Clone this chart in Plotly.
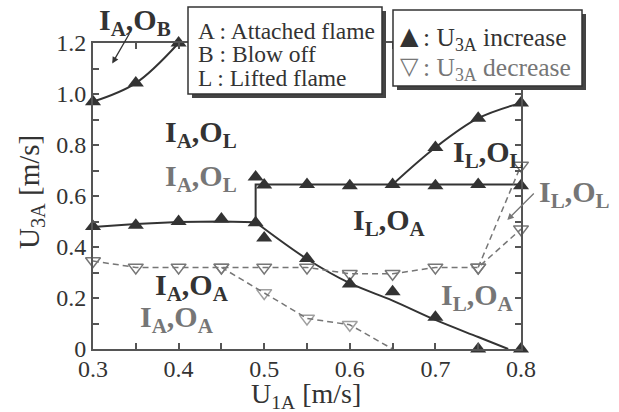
import plotly.graph_objects as go

# Measured transition points (U3A increasing), filled triangles
inc_x = [0.30, 0.35, 0.40, 0.45, 0.49, 0.50, 0.55, 0.60, 0.65, 0.70, 0.75, 0.80]
inc_y = [0.48, 0.485, 0.50, 0.51, 0.495, 0.435, 0.355, 0.255, 0.225, 0.125, 0.0, 0.0]
inc_top_x = [0.49, 0.50, 0.55, 0.60, 0.65, 0.70, 0.75, 0.80]
inc_top_y = [0.675, 0.643, 0.645, 0.64, 0.645, 0.64, 0.645, 0.64]
inc_ol_x = [0.70, 0.75, 0.80]
inc_ol_y = [0.79, 0.905, 0.965]
inc_ob_x = [0.30, 0.35, 0.40]
inc_ob_y = [0.97, 1.043, 1.20]

# Boundary curves
ob_curve_x = [0.30, 0.35, 0.40]
ob_curve_y = [0.97, 1.043, 1.20]
al_curve_x = [0.30, 0.35, 0.40, 0.45, 0.49, 0.49, 0.80]
al_curve_y = [0.478, 0.49, 0.498, 0.50, 0.497, 0.645, 0.645]
la_curve_x = [0.49, 0.55, 0.60, 0.65, 0.70, 0.75, 0.785]
la_curve_y = [0.497, 0.353, 0.258, 0.19, 0.114, 0.047, 0.0]
ol_curve_x = [0.65, 0.70, 0.75, 0.80]
ol_curve_y = [0.645, 0.79, 0.905, 0.965]

# Measured transition points (U3A decreasing), open triangles with dashed links
dec_x = [0.30, 0.35, 0.40, 0.45, 0.50, 0.55, 0.60, 0.65, 0.70, 0.75, 0.80]
dec_y = [0.345, 0.32, 0.32, 0.32, 0.32, 0.32, 0.295, 0.295, 0.32, 0.32, 0.47]
dec_up_x = [0.75, 0.80]
dec_up_y = [0.32, 0.72]
dec_low_x = [0.45, 0.50, 0.55, 0.60, 0.65]
dec_low_y = [0.32, 0.22, 0.12, 0.095, 0.0]

x_ticks = [0.3, 0.4, 0.5, 0.6, 0.7, 0.8]
x_ticktext = ["0.3", "0.4", "0.5", "0.6", "0.7", "0.8"]
y_ticks = [0, 0.2, 0.4, 0.6, 0.8, 1.0, 1.2]
y_ticktext = ["0", "0.2", "0.4", "0.6", "0.8", "1.0", "1.2"]

SERIF = "Liberation Serif"
DARK = "#333333"
GRAY = "#767676"
AXIS = "#555555"

# Plot-area geometry in pixels (for paper-referenced items)
L, T, W, H = 93.0, 43.0, 428.0, 306.0


def px(x):
    return (x - L) / W


def py(y):
    return (T + H - y) / H


fig = go.Figure()

solid = dict(color=DARK, width=2)
for cx, cy, shape in [(ob_curve_x, ob_curve_y, "spline"),
                      (al_curve_x, al_curve_y, "linear"),
                      (la_curve_x, la_curve_y, "spline"),
                      (ol_curve_x, ol_curve_y, "spline")]:
    fig.add_trace(go.Scatter(x=cx, y=cy, mode="lines", line=dict(shape=shape, **solid),
                             hoverinfo="skip", showlegend=False, cliponaxis=False))

dashed = dict(color=GRAY, width=1.5, dash="6px,4px")
open_marker = dict(symbol="triangle-down-open", size=13, color=GRAY, line=dict(width=1.5, color=GRAY))
fig.add_trace(go.Scatter(x=dec_x, y=dec_y, mode="lines+markers", line=dashed,
                         marker=open_marker, showlegend=False, cliponaxis=False))
fig.add_trace(go.Scatter(x=dec_up_x, y=dec_up_y, mode="lines+markers", line=dashed,
                         marker=open_marker, showlegend=False, cliponaxis=False))
low_sizes = [13] * (len(dec_low_x) - 1) + [0]
fig.add_trace(go.Scatter(x=dec_low_x, y=dec_low_y, mode="lines+markers", line=dashed,
                         marker=dict(open_marker, size=low_sizes), showlegend=False, cliponaxis=False))

filled = dict(symbol="triangle-up", size=14, color=DARK)
for mx, my in [(inc_x, inc_y), (inc_top_x, inc_top_y), (inc_ol_x, inc_ol_y), (inc_ob_x, inc_ob_y)]:
    fig.add_trace(go.Scatter(x=mx, y=my, mode="markers", marker=filled,
                             showlegend=False, cliponaxis=False))

# Regime labels (pixel centres)
regimes = [
    ("I<sub>A</sub>,O<sub>B</sub>", 135, 22, DARK),
    ("I<sub>A</sub>,O<sub>L</sub>", 201, 134, DARK),
    ("I<sub>A</sub>,O<sub>L</sub>", 201, 178, GRAY),
    ("I<sub>L</sub>,O<sub>L</sub>", 488, 154, DARK),
    ("I<sub>L</sub>,O<sub>L</sub>", 574, 194, GRAY),
    ("I<sub>L</sub>,O<sub>A</sub>", 389, 222, DARK),
    ("I<sub>A</sub>,O<sub>A</sub>", 192, 287, DARK),
    ("I<sub>A</sub>,O<sub>A</sub>", 177, 319, GRAY),
    ("I<sub>L</sub>,O<sub>A</sub>", 477, 297, GRAY),
]
for txt, tx, ty, col in regimes:
    fig.add_annotation(x=px(tx), y=py(ty), xref="paper", yref="paper", text="<b>" + txt + "</b>",
                       xanchor="center", yanchor="middle",
                       showarrow=False, font=dict(family=SERIF, size=30, color=col))

# Pointer arrows
fig.add_annotation(x=0.3225, y=1.12, ax=0.3436, ay=1.243, xref="x", yref="y",
                   axref="x", ayref="y", text="", showarrow=True, arrowhead=2,
                   arrowsize=1, arrowwidth=1.3, arrowcolor=DARK)
fig.add_annotation(x=0.784, y=0.506, ax=0.8167, ay=0.616, xref="x", yref="y",
                   axref="x", ayref="y", text="", showarrow=True, arrowhead=2,
                   arrowsize=1, arrowwidth=1.3, arrowcolor=GRAY)

# Key boxes
for x0, y0, x1, y1 in [(188, 7, 382, 94), (393, 10, 582, 86)]:
    fig.add_shape(type="rect", xref="paper", yref="paper",
                  x0=px(x0 + 4), y0=py(y1 + 4), x1=px(x1 + 4), y1=py(y0 + 4),
                  fillcolor="#444444", line=dict(width=0), layer="above")
    fig.add_shape(type="rect", xref="paper", yref="paper",
                  x0=px(x0), y0=py(y1), x1=px(x1), y1=py(y0),
                  fillcolor="white", line=dict(color=DARK, width=1.5), layer="above")

key_lines = [("A : Attached flame", 31), ("B : Blow off", 54), ("L : Lifted flame", 78)]
for txt, yy in key_lines:
    fig.add_annotation(x=px(196), y=py(yy), xref="paper", yref="paper", text=txt,
                       xanchor="left", yanchor="middle", showarrow=False,
                       font=dict(family=SERIF, size=23.5, color=DARK))

fig.add_annotation(x=px(409), y=py(36), xref="paper", yref="paper", text="▲",
                   xanchor="center", yanchor="middle", showarrow=False,
                   font=dict(family="DejaVu Sans", size=24, color=DARK))
fig.add_annotation(x=px(409), y=py(66), xref="paper", yref="paper", text="▽",
                   xanchor="center", yanchor="middle", showarrow=False,
                   font=dict(family="DejaVu Sans", size=24, color=GRAY))
fig.add_annotation(x=px(421), y=py(39), xref="paper", yref="paper",
                   text=": U<sub>3A</sub> increase", xanchor="left", yanchor="middle",
                   showarrow=False, font=dict(family=SERIF, size=25.5, color=DARK))
fig.add_annotation(x=px(421), y=py(69), xref="paper", yref="paper",
                   text=": U<sub>3A</sub> decrease", xanchor="left", yanchor="middle",
                   showarrow=False, font=dict(family=SERIF, size=25.5, color=GRAY))

# Axis titles
fig.add_annotation(x=px(306), y=py(395), xref="paper", yref="paper",
                   text="U<sub>1A</sub> [m/s]", showarrow=False,
                   xanchor="center", yanchor="middle",
                   font=dict(family=SERIF, size=28, color=DARK))
fig.add_annotation(x=px(31), y=py(192), xref="paper", yref="paper",
                   text="U<sub>3A</sub> [m/s]", showarrow=False, textangle=-90,
                   xanchor="center", yanchor="middle",
                   font=dict(family=SERIF, size=29, color=DARK))

axis_common = dict(showgrid=False, zeroline=False, showline=True, linecolor=AXIS,
                   linewidth=2, mirror="ticks", ticks="inside", ticklen=6,
                   tickwidth=1.5, tickcolor=AXIS,
                   tickfont=dict(family=SERIF, size=24, color=DARK))

fig.update_layout(
    width=619, height=412,
    margin=dict(l=93, r=98, t=43, b=63),
    plot_bgcolor="white", paper_bgcolor="white",
    xaxis=dict(range=[0.3, 0.8], tickmode="array", tickvals=x_ticks, ticktext=x_ticktext,
               ticklabelstandoff=-3,
               minor=dict(tickvals=[0.35, 0.45, 0.55, 0.65, 0.75], ticks="inside",
                          ticklen=6, tickwidth=1.5, tickcolor=AXIS),
               **axis_common),
    yaxis=dict(range=[0, 1.2], tickmode="array", tickvals=y_ticks, ticktext=y_ticktext,
               minor=dict(tickvals=[0.1, 0.3, 0.5, 0.7, 0.9, 1.1], ticks="inside",
                          ticklen=6, tickwidth=1.5, tickcolor=AXIS),
               **axis_common),
)

fig.write_html("out.html")
